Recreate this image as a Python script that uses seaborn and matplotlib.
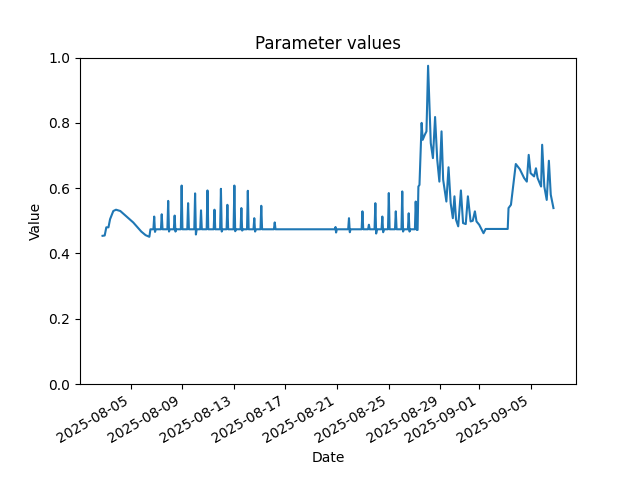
import matplotlib
matplotlib.use("Agg")
import matplotlib.pyplot as plt
import pandas as pd
import seaborn as sns

# readings, as (timestamp, value) pairs, split by episode
ramp = [
    ("2025-08-02 20:00", 0.454), ("2025-08-03 00:00", 0.455),
    ("2025-08-03 03:00", 0.480), ("2025-08-03 07:00", 0.480),
    ("2025-08-03 10:00", 0.505), ("2025-08-03 16:00", 0.530),
    ("2025-08-03 21:00", 0.534), ("2025-08-04 05:00", 0.530),
    ("2025-08-05 05:00", 0.495), ("2025-08-05 20:00", 0.467),
    ("2025-08-06 04:00", 0.456), ("2025-08-06 11:00", 0.451),
    ("2025-08-06 13:00", 0.474),
]

tides_early = [
    ("2025-08-06 18:30", 0.474), ("2025-08-06 20:00", 0.513), ("2025-08-06 21:30", 0.466), ("2025-08-06 23:00", 0.474),
    ("2025-08-07 08:30", 0.474), ("2025-08-07 10:00", 0.520), ("2025-08-07 11:30", 0.474),
    ("2025-08-07 20:30", 0.474), ("2025-08-07 22:00", 0.561), ("2025-08-07 23:30", 0.467), ("2025-08-08 01:00", 0.474),
    ("2025-08-08 08:30", 0.474), ("2025-08-08 10:00", 0.516), ("2025-08-08 11:30", 0.467), ("2025-08-08 13:00", 0.474),
    ("2025-08-08 21:30", 0.474), ("2025-08-08 23:00", 0.608), ("2025-08-09 00:30", 0.474),
    ("2025-08-09 09:30", 0.474), ("2025-08-09 11:00", 0.554), ("2025-08-09 12:30", 0.474),
    ("2025-08-09 22:30", 0.474), ("2025-08-10 00:00", 0.584), ("2025-08-10 01:30", 0.458), ("2025-08-10 03:00", 0.474),
    ("2025-08-10 09:30", 0.474), ("2025-08-10 11:00", 0.532), ("2025-08-10 12:30", 0.474),
    ("2025-08-10 21:30", 0.474), ("2025-08-10 23:00", 0.593), ("2025-08-11 00:30", 0.474),
    ("2025-08-11 10:30", 0.474), ("2025-08-11 12:00", 0.534), ("2025-08-11 13:30", 0.474),
    ("2025-08-11 22:30", 0.474), ("2025-08-12 00:00", 0.598), ("2025-08-12 01:30", 0.467), ("2025-08-12 03:00", 0.474),
    ("2025-08-12 10:30", 0.474), ("2025-08-12 12:00", 0.549), ("2025-08-12 13:30", 0.474),
    ("2025-08-12 23:30", 0.474), ("2025-08-13 01:00", 0.608), ("2025-08-13 02:30", 0.468), ("2025-08-13 04:00", 0.474),
    ("2025-08-13 12:30", 0.474), ("2025-08-13 14:00", 0.539), ("2025-08-13 15:30", 0.470), ("2025-08-13 17:00", 0.474),
    ("2025-08-14 00:30", 0.474), ("2025-08-14 02:00", 0.592), ("2025-08-14 03:30", 0.474),
    ("2025-08-14 12:30", 0.474), ("2025-08-14 14:00", 0.508), ("2025-08-14 15:30", 0.467), ("2025-08-14 17:00", 0.474),
    ("2025-08-15 01:30", 0.474), ("2025-08-15 03:00", 0.546), ("2025-08-15 04:30", 0.474),
    ("2025-08-16 02:30", 0.474), ("2025-08-16 04:00", 0.495), ("2025-08-16 05:30", 0.474),
]

calm = [
    ("2025-08-20 19:30", 0.474), ("2025-08-20 21:00", 0.481),
    ("2025-08-20 22:00", 0.464), ("2025-08-20 23:30", 0.474),
]

tides_late = [
    ("2025-08-21 20:30", 0.474), ("2025-08-21 22:00", 0.508), ("2025-08-21 23:30", 0.465), ("2025-08-22 01:00", 0.474),
    ("2025-08-22 21:30", 0.474), ("2025-08-22 23:00", 0.529), ("2025-08-23 00:30", 0.474),
    ("2025-08-23 09:30", 0.474), ("2025-08-23 11:00", 0.488), ("2025-08-23 12:30", 0.474),
    ("2025-08-23 21:30", 0.474), ("2025-08-23 23:00", 0.554), ("2025-08-24 00:30", 0.461), ("2025-08-24 02:00", 0.474),
    ("2025-08-24 10:30", 0.474), ("2025-08-24 12:00", 0.513), ("2025-08-24 13:30", 0.465), ("2025-08-24 15:00", 0.474),
    ("2025-08-24 22:30", 0.474), ("2025-08-25 00:00", 0.585), ("2025-08-25 01:30", 0.474),
    ("2025-08-25 11:30", 0.474), ("2025-08-25 13:00", 0.529), ("2025-08-25 14:30", 0.474),
    ("2025-08-25 23:30", 0.474), ("2025-08-26 01:00", 0.590), ("2025-08-26 02:30", 0.467), ("2025-08-26 04:00", 0.474),
    ("2025-08-26 11:30", 0.474), ("2025-08-26 13:00", 0.523), ("2025-08-26 14:30", 0.467), ("2025-08-26 16:00", 0.474),
    ("2025-08-27 00:30", 0.474), ("2025-08-27 02:00", 0.559), ("2025-08-27 04:00", 0.472), ("2025-08-27 05:30", 0.472),
]

surge = [
    ("2025-08-27 07:00", 0.605), ("2025-08-27 09:00", 0.610), ("2025-08-27 13:00", 0.800),
    ("2025-08-27 15:00", 0.748), ("2025-08-27 19:00", 0.764), ("2025-08-27 22:00", 0.774),
    ("2025-08-28 01:00", 0.975), ("2025-08-28 06:00", 0.738), ("2025-08-28 10:00", 0.692),
    ("2025-08-28 14:00", 0.818), ("2025-08-28 18:00", 0.687), ("2025-08-28 22:00", 0.620),
    ("2025-08-29 02:00", 0.774), ("2025-08-29 05:00", 0.626), ("2025-08-29 11:00", 0.559),
    ("2025-08-29 15:00", 0.664), ("2025-08-29 19:00", 0.554), ("2025-08-29 23:00", 0.508),
    ("2025-08-30 02:00", 0.575), ("2025-08-30 05:00", 0.503), ("2025-08-30 09:00", 0.483),
    ("2025-08-30 14:00", 0.593), ("2025-08-30 18:00", 0.493), ("2025-08-30 23:00", 0.490),
    ("2025-08-31 03:00", 0.575), ("2025-08-31 08:00", 0.498), ("2025-08-31 12:00", 0.500),
    ("2025-08-31 16:00", 0.529), ("2025-08-31 19:00", 0.498), ("2025-09-01 00:00", 0.488),
    ("2025-09-01 08:00", 0.462), ("2025-09-01 12:00", 0.475),
]

second_rise = [
    ("2025-09-03 05:00", 0.475), ("2025-09-03 06:30", 0.539), ("2025-09-03 11:00", 0.549),
    ("2025-09-03 20:00", 0.674), ("2025-09-04 03:30", 0.658), ("2025-09-04 11:30", 0.631),
    ("2025-09-04 16:30", 0.620), ("2025-09-04 20:00", 0.702), ("2025-09-04 23:30", 0.646),
    ("2025-09-05 06:00", 0.636), ("2025-09-05 09:30", 0.661), ("2025-09-05 12:30", 0.631),
    ("2025-09-05 19:00", 0.605), ("2025-09-05 21:00", 0.733), ("2025-09-06 01:00", 0.605),
    ("2025-09-06 05:30", 0.564), ("2025-09-06 09:30", 0.684), ("2025-09-06 13:00", 0.580),
    ("2025-09-06 18:00", 0.539),
]


rows = ramp + tides_early + calm + tides_late + surge + second_rise
df = pd.DataFrame(rows, columns=["Date", "Value"])
df["Date"] = pd.to_datetime(df["Date"])

fig, ax = plt.subplots(figsize=(6.4, 4.8), dpi=100)
sns.lineplot(data=df, x="Date", y="Value", ax=ax, estimator=None, color="#1f77b4", linewidth=1.5)

ax.set_ylim(0, 1)
ax.set_title("Parameter values")
ax.set_xlabel("Date")
ax.set_ylabel("Value")
fig.autofmt_xdate()

fig.savefig("out.png", dpi=100)
